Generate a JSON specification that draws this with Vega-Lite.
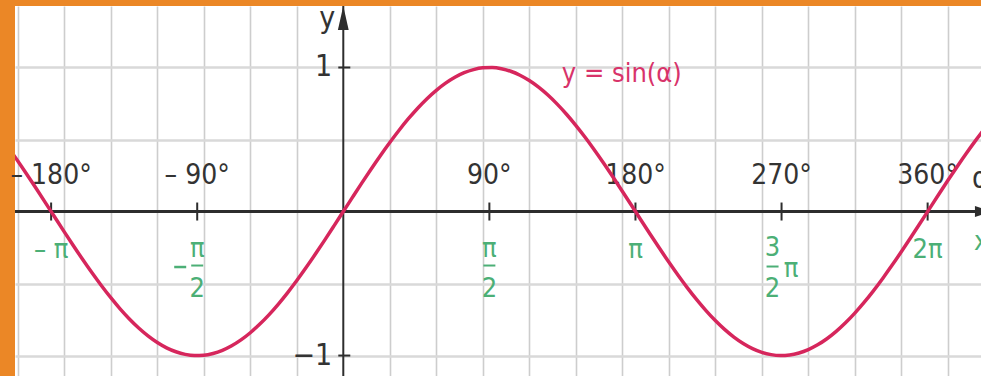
{
  "$schema": "https://vega.github.io/schema/vega-lite/v6.json",
  "width": 966,
  "height": 370,
  "autosize": "none",
  "padding": {"left": 15, "top": 6, "right": 0, "bottom": 0},
  "background": "#eb8726",
  "config": {
    "view": {"stroke": null, "fill": "#ffffff"},
    "text": {"font": "'Liberation Sans Narrow', 'DejaVu Sans Condensed', sans-serif"}
  },
  "data": {"values": [{}]},
  "datasets": {
    "curve": [
      {"x": -3.6, "y": 0.4425}, {"x": -3.5, "y": 0.3508}, {"x": -3.4, "y": 0.2555}, {"x": -3.3, "y": 0.1577},
      {"x": -3.2, "y": 0.0584}, {"x": -3.1, "y": -0.0416}, {"x": -3.0, "y": -0.1411}, {"x": -2.9, "y": -0.2392},
      {"x": -2.8, "y": -0.335}, {"x": -2.7, "y": -0.4274}, {"x": -2.6, "y": -0.5155}, {"x": -2.5, "y": -0.5985},
      {"x": -2.4, "y": -0.6755}, {"x": -2.3, "y": -0.7457}, {"x": -2.2, "y": -0.8085}, {"x": -2.1, "y": -0.8632},
      {"x": -2.0, "y": -0.9093}, {"x": -1.9, "y": -0.9463}, {"x": -1.8, "y": -0.9738}, {"x": -1.7, "y": -0.9917},
      {"x": -1.6, "y": -0.9996}, {"x": -1.5, "y": -0.9975}, {"x": -1.4, "y": -0.9854}, {"x": -1.3, "y": -0.9636},
      {"x": -1.2, "y": -0.932}, {"x": -1.1, "y": -0.8912}, {"x": -1.0, "y": -0.8415}, {"x": -0.9, "y": -0.7833},
      {"x": -0.8, "y": -0.7174}, {"x": -0.7, "y": -0.6442}, {"x": -0.6, "y": -0.5646}, {"x": -0.5, "y": -0.4794},
      {"x": -0.4, "y": -0.3894}, {"x": -0.3, "y": -0.2955}, {"x": -0.2, "y": -0.1987}, {"x": -0.1, "y": -0.0998},
      {"x": 0.0, "y": 0.0}, {"x": 0.1, "y": 0.0998}, {"x": 0.2, "y": 0.1987}, {"x": 0.3, "y": 0.2955},
      {"x": 0.4, "y": 0.3894}, {"x": 0.5, "y": 0.4794}, {"x": 0.6, "y": 0.5646}, {"x": 0.7, "y": 0.6442},
      {"x": 0.8, "y": 0.7174}, {"x": 0.9, "y": 0.7833}, {"x": 1.0, "y": 0.8415}, {"x": 1.1, "y": 0.8912},
      {"x": 1.2, "y": 0.932}, {"x": 1.3, "y": 0.9636}, {"x": 1.4, "y": 0.9854}, {"x": 1.5, "y": 0.9975},
      {"x": 1.6, "y": 0.9996}, {"x": 1.7, "y": 0.9917}, {"x": 1.8, "y": 0.9738}, {"x": 1.9, "y": 0.9463},
      {"x": 2.0, "y": 0.9093}, {"x": 2.1, "y": 0.8632}, {"x": 2.2, "y": 0.8085}, {"x": 2.3, "y": 0.7457},
      {"x": 2.4, "y": 0.6755}, {"x": 2.5, "y": 0.5985}, {"x": 2.6, "y": 0.5155}, {"x": 2.7, "y": 0.4274},
      {"x": 2.8, "y": 0.335}, {"x": 2.9, "y": 0.2392}, {"x": 3.0, "y": 0.1411}, {"x": 3.1, "y": 0.0416},
      {"x": 3.2, "y": -0.0584}, {"x": 3.3, "y": -0.1577}, {"x": 3.4, "y": -0.2555}, {"x": 3.5, "y": -0.3508},
      {"x": 3.6, "y": -0.4425}, {"x": 3.7, "y": -0.5298}, {"x": 3.8, "y": -0.6119}, {"x": 3.9, "y": -0.6878},
      {"x": 4.0, "y": -0.7568}, {"x": 4.1, "y": -0.8183}, {"x": 4.2, "y": -0.8716}, {"x": 4.3, "y": -0.9162},
      {"x": 4.4, "y": -0.9516}, {"x": 4.5, "y": -0.9775}, {"x": 4.6, "y": -0.9937}, {"x": 4.7, "y": -0.9999},
      {"x": 4.8, "y": -0.9962}, {"x": 4.9, "y": -0.9825}, {"x": 5.0, "y": -0.9589}, {"x": 5.1, "y": -0.9258},
      {"x": 5.2, "y": -0.8835}, {"x": 5.3, "y": -0.8323}, {"x": 5.4, "y": -0.7728}, {"x": 5.5, "y": -0.7055},
      {"x": 5.6, "y": -0.6313}, {"x": 5.7, "y": -0.5507}, {"x": 5.8, "y": -0.4646}, {"x": 5.9, "y": -0.3739},
      {"x": 6.0, "y": -0.2794}, {"x": 6.1, "y": -0.1822}, {"x": 6.2, "y": -0.0831}, {"x": 6.3, "y": 0.0168},
      {"x": 6.4, "y": 0.1165}, {"x": 6.5, "y": 0.2151}, {"x": 6.6, "y": 0.3115}, {"x": 6.7, "y": 0.4048},
      {"x": 6.8, "y": 0.4941}, {"x": 6.9, "y": 0.5784}
    ],
    "ticks": [
      {"a": -3.14159, "deg": "– 180°", "rad": "– π"},
      {"a": -1.5708, "deg": "– 90°", "num": "π", "den": "2", "pre": "–"},
      {"a": 1.5708, "deg": "90°", "num": "π", "den": "2"},
      {"a": 3.14159, "deg": "180°", "rad": "π"},
      {"a": 4.71239, "deg": "270°", "num": "3", "den": "2", "suf": "π"},
      {"a": 6.28319, "deg": "360°", "rad": "2π"}
    ],
    "yticks": [
      {"v": 1, "t": "1"},
      {"v": -1, "t": "−1"}
    ]
  },
  "layer": [
    {
      "data": {"name": "ticks"},
      "mark": {"type": "rule", "color": "#2d2d2d", "strokeWidth": 2, "yOffset": -9, "y2Offset": 9},
      "encoding": {
        "x": {
          "field": "a", "type": "quantitative",
          "scale": {"domain": [-3.53, 6.857], "nice": false, "zero": false},
          "axis": {
            "values": [-3.5, -3, -2.5, -2, -1.5, -1, -0.5, 0.5, 1, 1.5, 2, 2.5, 3, 3.5, 4, 4.5, 5, 5.5, 6, 6.5],
            "grid": true, "gridColor": "#cdcdcd", "gridWidth": 1.6,
            "labels": false, "ticks": false, "domain": false, "title": null
          }
        },
        "y": {
          "datum": 0, "type": "quantitative",
          "scale": {"domain": [-1.142, 1.427], "nice": false, "zero": false},
          "axis": {
            "values": [-1, -0.5, 0.5, 1],
            "grid": true, "gridColor": "#d9d9d9", "gridWidth": 2.4,
            "labels": false, "ticks": false, "domain": false, "title": null
          }
        },
        "y2": {"datum": 0}
      }
    },
    {
      "mark": {"type": "rule", "color": "#2d2d2d", "strokeWidth": 3},
      "encoding": {"y": {"datum": 0, "type": "quantitative"}}
    },
    {
      "mark": {"type": "rule", "color": "#2d2d2d", "strokeWidth": 2},
      "encoding": {"x": {"datum": 0, "type": "quantitative"}}
    },
    {
      "data": {"name": "yticks"},
      "mark": {"type": "rule", "color": "#2d2d2d", "strokeWidth": 2, "xOffset": -5, "x2Offset": 7},
      "encoding": {
        "y": {"field": "v", "type": "quantitative"},
        "x": {"datum": 0, "type": "quantitative"},
        "x2": {"datum": 0}
      }
    },
    {
      "data": {"name": "yticks"},
      "mark": {"type": "text", "color": "#333333", "fontSize": 30, "align": "right", "baseline": "middle", "dx": -11},
      "encoding": {
        "y": {"field": "v", "type": "quantitative"},
        "x": {"datum": 0, "type": "quantitative"},
        "text": {"field": "t"}
      }
    },
    {
      "mark": {"type": "point", "shape": "M0,-1L0.45,1L-0.45,1Z", "size": 576, "filled": true, "opacity": 1, "color": "#2d2d2d"},
      "encoding": {
        "x": {"datum": 0, "type": "quantitative"},
        "y": {"datum": 1.344, "type": "quantitative"}
      }
    },
    {
      "mark": {"type": "point", "shape": "M-1,-0.7L1,0L-1,0.7Z", "size": 256, "filled": true, "opacity": 1, "color": "#2d2d2d"},
      "encoding": {
        "x": {"datum": 6.878, "type": "quantitative"},
        "y": {"datum": 0, "type": "quantitative"}
      }
    },
    {
      "mark": {"type": "text", "text": "y", "color": "#333333", "fontSize": 30, "align": "right", "baseline": "alphabetic", "dx": -8, "dy": -39},
      "encoding": {
        "x": {"datum": 0, "type": "quantitative"},
        "y": {"datum": 1, "type": "quantitative"}
      }
    },
    {
      "mark": {"type": "text", "text": "α", "color": "#333333", "fontSize": 30, "align": "left", "baseline": "alphabetic", "dx": -9, "dy": -23.5},
      "encoding": {
        "x": {"datum": 6.857, "type": "quantitative"},
        "y": {"datum": 0, "type": "quantitative"}
      }
    },
    {
      "mark": {"type": "text", "text": "x", "color": "#4caf76", "fontSize": 27, "align": "left", "baseline": "alphabetic", "dx": -7, "dy": 38.5},
      "encoding": {
        "x": {"datum": 6.857, "type": "quantitative"},
        "y": {"datum": 0, "type": "quantitative"}
      }
    },
    {
      "data": {"name": "ticks"},
      "mark": {"type": "text", "color": "#333333", "fontSize": 28, "align": "center", "baseline": "alphabetic", "dy": -27.5},
      "encoding": {
        "x": {"field": "a", "type": "quantitative"},
        "y": {"datum": 0, "type": "quantitative"},
        "text": {"field": "deg"}
      }
    },
    {
      "data": {"name": "ticks"},
      "transform": [{"filter": "datum.rad"}],
      "mark": {"type": "text", "color": "#4caf76", "fontSize": 27, "align": "center", "baseline": "alphabetic", "dy": 46.5},
      "encoding": {
        "x": {"field": "a", "type": "quantitative"},
        "y": {"datum": 0, "type": "quantitative"},
        "text": {"field": "rad"}
      }
    },
    {
      "data": {"name": "ticks"},
      "transform": [{"filter": "datum.num && !datum.suf"}],
      "layer": [
        {
          "mark": {"type": "text", "color": "#4caf76", "fontSize": 27, "align": "center", "baseline": "alphabetic", "dy": 45.5},
          "encoding": {
            "x": {"field": "a", "type": "quantitative"},
            "y": {"datum": 0, "type": "quantitative"},
            "text": {"field": "num"}
          }
        },
        {
          "mark": {"type": "rule", "color": "#4caf76", "strokeWidth": 2, "xOffset": -6, "x2Offset": 6, "yOffset": 54},
          "encoding": {
            "x": {"field": "a", "type": "quantitative"},
            "x2": {"field": "a"},
            "y": {"datum": 0, "type": "quantitative"}
          }
        },
        {
          "mark": {"type": "text", "color": "#4caf76", "fontSize": 27, "align": "center", "baseline": "alphabetic", "dy": 85.5},
          "encoding": {
            "x": {"field": "a", "type": "quantitative"},
            "y": {"datum": 0, "type": "quantitative"},
            "text": {"field": "den"}
          }
        }
      ]
    },
    {
      "data": {"name": "ticks"},
      "transform": [{"filter": "datum.pre"}],
      "mark": {"type": "rule", "color": "#4caf76", "strokeWidth": 2.5, "xOffset": -23, "x2Offset": -11, "yOffset": 55.5},
      "encoding": {
        "x": {"field": "a", "type": "quantitative"},
        "x2": {"field": "a"},
        "y": {"datum": 0, "type": "quantitative"}
      }
    },
    {
      "data": {"name": "ticks"},
      "transform": [{"filter": "datum.suf"}],
      "layer": [
        {
          "mark": {"type": "text", "color": "#4caf76", "fontSize": 27, "align": "center", "baseline": "alphabetic", "dx": -9, "dy": 44},
          "encoding": {
            "x": {"field": "a", "type": "quantitative"},
            "y": {"datum": 0, "type": "quantitative"},
            "text": {"field": "num"}
          }
        },
        {
          "mark": {"type": "rule", "color": "#4caf76", "strokeWidth": 2, "xOffset": -15, "x2Offset": -3, "yOffset": 55},
          "encoding": {
            "x": {"field": "a", "type": "quantitative"},
            "x2": {"field": "a"},
            "y": {"datum": 0, "type": "quantitative"}
          }
        },
        {
          "mark": {"type": "text", "color": "#4caf76", "fontSize": 27, "align": "center", "baseline": "alphabetic", "dx": -9, "dy": 85.5},
          "encoding": {
            "x": {"field": "a", "type": "quantitative"},
            "y": {"datum": 0, "type": "quantitative"},
            "text": {"field": "den"}
          }
        },
        {
          "mark": {"type": "text", "color": "#4caf76", "fontSize": 27, "align": "center", "baseline": "alphabetic", "dx": 9.5, "dy": 65.5},
          "encoding": {
            "x": {"field": "a", "type": "quantitative"},
            "y": {"datum": 0, "type": "quantitative"},
            "text": {"field": "suf"}
          }
        }
      ]
    },
    {
      "mark": {"type": "text", "text": "y = sin(α)", "color": "#d8336a", "fontSize": 27, "align": "left", "baseline": "alphabetic"},
      "encoding": {
        "x": {"datum": 2.35, "type": "quantitative"},
        "y": {"datum": 0.9, "type": "quantitative"}
      }
    },
    {
      "data": {"name": "curve"},
      "mark": {"type": "line", "color": "#d6265c", "strokeWidth": 3.5, "interpolate": "monotone", "clip": true},
      "encoding": {
        "x": {"field": "x", "type": "quantitative"},
        "y": {"field": "y", "type": "quantitative"}
      }
    }
  ]
}
